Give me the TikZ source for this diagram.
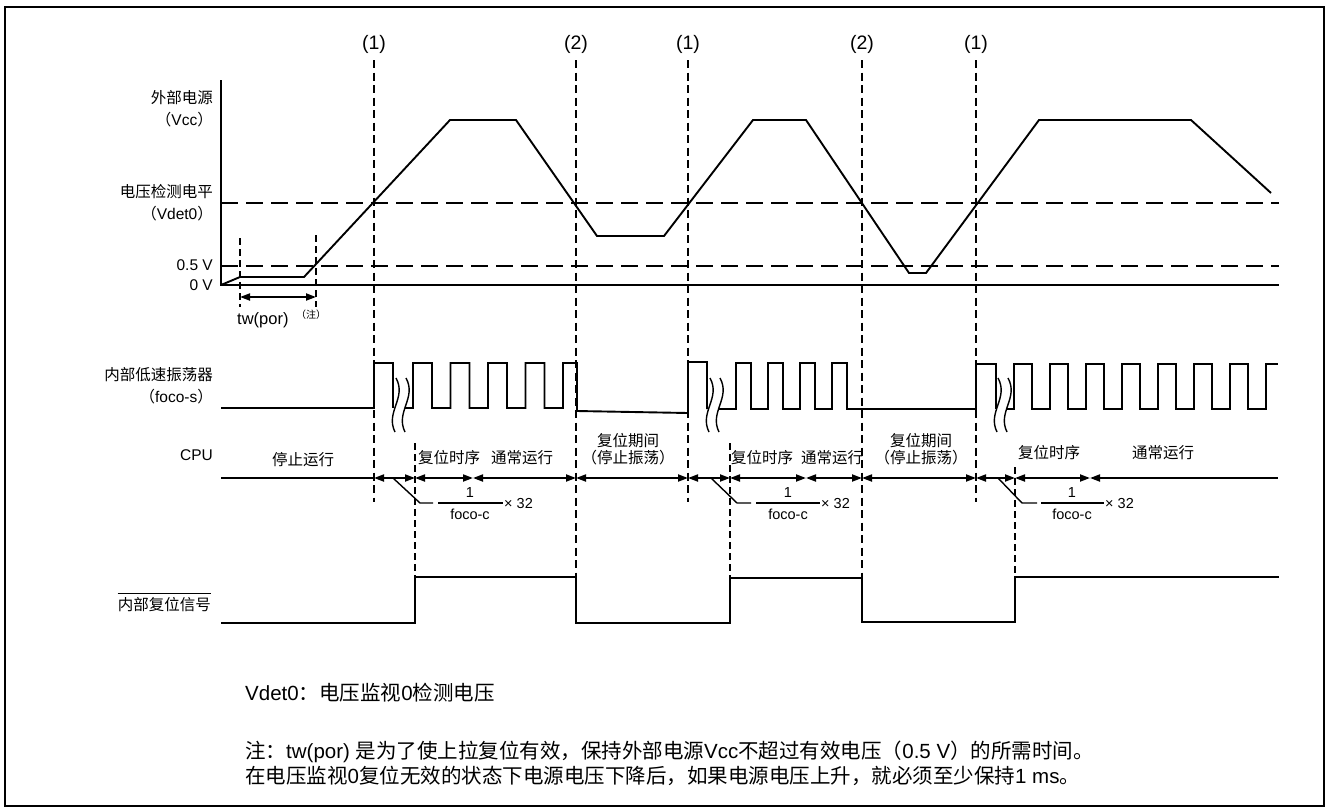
\documentclass[tikz,border=0pt]{standalone}
\usepackage{fontspec}
\setmainfont{Liberation Sans}
\newfontfamily\cjk{Noto Sans CJK SC}
\usetikzlibrary{arrows.meta}

\newcommand{\zh}[1]{{\cjk #1}}

\tikzset{
  sig/.style={line width=1.9pt},
  thin/.style={line width=1.4pt},
  vdash/.style={line width=1.6pt, dash pattern=on 8pt off 4.5pt},
  hdash/.style={line width=1.9pt, dash pattern=on 17pt off 8pt},
  tdash/.style={line width=1.4pt, dash pattern=on 7pt off 4pt},
  lbl/.style={inner sep=0pt, font=\fontsize{15.5}{17}\selectfont},
  frac/.style={inner sep=0pt, font=\fontsize{14.5}{16}\selectfont},
  tagnum/.style={inner sep=0pt, font=\fontsize{19.5}{21}\selectfont},
  note/.style={inner sep=0pt, anchor=west, font=\fontsize{20.5}{24}\selectfont},
}

\begin{document}
\begin{tikzpicture}[x=1pt,y=-1pt,>={Triangle[length=10pt,width=7pt]}]
\useasboundingbox (0,0) rectangle (1330,809);
\draw[line width=2.6pt] (5,7) rectangle (1324,806);

% check points (1)/(2)
\node[tagnum] (m1) at (374,44) {(1)};
\node[tagnum] (m2) at (576,44) {(2)};
\node[tagnum] (m3) at (688,44) {(1)};
\node[tagnum] (m4) at (862,44) {(2)};
\node[tagnum] (m5) at (976,44) {(1)};
\draw[vdash] (374,60) -- (374,502);
\draw[vdash] (576,60) -- (576,577);
\draw[vdash] (688,60) -- (688,502);
\draw[vdash] (862,60) -- (862,578);
\draw[vdash] (976,60) -- (976,502);

% row labels
\node[lbl, anchor=east] (vcc1) at (213,98) {\zh{外部电源}};
\node[lbl, anchor=east] (vcc2) at (213,120) {\zh{（}Vcc\zh{）}};
\node[lbl, anchor=east] (det1) at (213,192) {\zh{电压检测电平}};
\node[lbl, anchor=east] (det2) at (213,214) {\zh{（}Vdet0\zh{）}};
\node[lbl, anchor=east] (half) at (213,265) {0.5 V};
\node[lbl, anchor=east] (zero) at (213,285) {0 V};
\node[lbl, anchor=east] (osc1) at (213,375) {\zh{内部低速振荡器}};
\node[lbl, anchor=east] (osc2) at (213,397) {\zh{（}foco-s\zh{）}};
\node[lbl, anchor=east] (cpu) at (213,455) {CPU};
\node[lbl, anchor=east] (rst) at (211,605) {\zh{内部复位信号}};
\draw[thin] ([yshift=4pt]rst.north west) -- ([yshift=4pt]rst.north east);

% Vcc
\coordinate (o) at (221,285);
\draw[sig] (221,80) -- (o) -- (1279,285);
\draw[hdash] (221,203) -- (1279,203);
\draw[hdash] (221,266) -- (1279,266);
\draw[sig] (o) -- (240,277) -- (304,277) -- (450,120) -- (516,120) -- (597,236)
  -- (664,236) -- (753,120) -- (806,120) -- (909,273) -- (926,273) -- (1039,120)
  -- (1191,120) -- (1271,193);

% tw(por)
\draw[tdash] (240,238) -- (240,307);
\draw[tdash] (316,235) -- (316,307);
\coordinate (twa) at (240,297);
\coordinate (twb) at (316,297);
\draw[sig,<->] (twa) -- (twb);
\node[lbl, anchor=west, font=\fontsize{16.5}{18}\selectfont] (tw) at (237,320) {tw(por)};
\node[inner sep=0pt, anchor=west, font=\fontsize{10}{11}\selectfont\cjk] (twn) at (296,315) {（注）};

% low-speed oscillator
\draw[sig] (221,408) -- (374,408) -- (374,363) -- (393,363) -- (393,408);
\draw[sig] (405,408) \foreach \k in {0,...,3} { -- ({413+37.5*\k},408) -- ({413+37.5*\k},363)
  -- ({432+37.5*\k},363) -- ({432+37.5*\k},408) } -- (563,408) -- (563,363) -- (577,363)
  -- (577,411) -- (688,413) -- (688,362) -- (707,362) -- (707,409);
\draw[sig] (719,409) \foreach \k in {0,...,3} { -- ({736+32*\k},409) -- ({736+32*\k},363)
  -- ({751+32*\k},363) -- ({751+32*\k},409) } -- (976,409) -- (976,364) -- (996,364) -- (996,409);
\draw[sig] (1006,409) \foreach \k in {0,...,6} { -- ({1014+36*\k},409) -- ({1014+36*\k},364)
  -- ({1032+36*\k},364) -- ({1032+36*\k},409) } -- (1266,409) -- (1266,364) -- (1278,364);
\foreach \bx in {396,406,710,720,998,1008}
  \draw[thin] (\bx,378) .. controls (\bx+11,398) and (\bx-11,412) .. (\bx-1,432);

% CPU
\foreach \n/\x in {a/374,b/415,c/473,d/576,e/688,f/730,g/806,h/862,i/976,j/1015,k/1090}
  \coordinate (c\n) at (\x,478);
\coordinate (cz) at (1278,478);
\draw[sig] (221,478) -- (ca);
\foreach \p/\q in {a/b,b/c,c/d,d/e,e/f,f/g,g/h,h/i,i/j,j/k}
  \draw[sig,<->] (c\p) -- (c\q);
\draw[sig,<-] (ck) -- (cz);

\node[lbl] (stop) at (303,460) {\zh{停止运行}};
\node[lbl] (seq1) at (449,458) {\zh{复位时序}};
\node[lbl] (run1) at (522,458) {\zh{通常运行}};
\node[lbl, align=center] (hold1) at (628,449) {\zh{复位期间}\\\zh{（停止振荡）}};
\node[lbl] (seq2) at (762,458) {\zh{复位时序}};
\node[lbl] (run2) at (832,458) {\zh{通常运行}};
\node[lbl, align=center] (hold2) at (921,449) {\zh{复位期间}\\\zh{（停止振荡）}};
\node[lbl] (seq3) at (1049,453) {\zh{复位时序}};
\node[lbl] (run3) at (1163,453) {\zh{通常运行}};

\draw[tdash] (415,443) -- (415,577);
\draw[tdash] (730,443) -- (730,578);
\draw[tdash] (1015,467) -- (1015,577);

% 1/foco-c x 32
\draw[thin] (393,478) -- (420,503) -- (433,503);
\draw[thin] (438,503) -- (503,503);
\node[frac] (num1) at (470,493) {1};
\node[frac] (den1) at (470,514) {foco-c};
\node[frac, anchor=west] (x1) at (504,503) {× 32};
\draw[thin] (711,478) -- (737,503) -- (751,503);
\draw[thin] (756,503) -- (820,503);
\node[frac] (num2) at (788,493) {1};
\node[frac] (den2) at (788,514) {foco-c};
\node[frac, anchor=west] (x2) at (821,503) {× 32};
\draw[thin] (998,478) -- (1022,503) -- (1037,503);
\draw[thin] (1041,503) -- (1104,503);
\node[frac] (num3) at (1072,493) {1};
\node[frac] (den3) at (1072,514) {foco-c};
\node[frac, anchor=west] (x3) at (1105,503) {× 32};

% internal reset
\draw[sig] (221,623) -- (415,623) -- (415,577) -- (576,577) -- (576,623) -- (730,623)
  -- (730,578) -- (862,578) -- (862,622) -- (1015,622) -- (1015,577) -- (1279,577);

% notes
\node[note] (n0) at (245,693) {Vdet0\zh{：电压监视}0\zh{检测电压}};
\node[note] (n1) at (245,752) {\zh{注：}tw(por) \zh{是为了使上拉复位有效，保持外部电源}Vcc\zh{不超过有效电压（}0.5 V\zh{）的所需时间。}};
\node[note] (n2) at (245,776) {\zh{在电压监视}0\zh{复位无效的状态下电源电压下降后，如果电源电压上升，就必须至少保持}1 ms\zh{。}};
\end{tikzpicture}
\end{document}
